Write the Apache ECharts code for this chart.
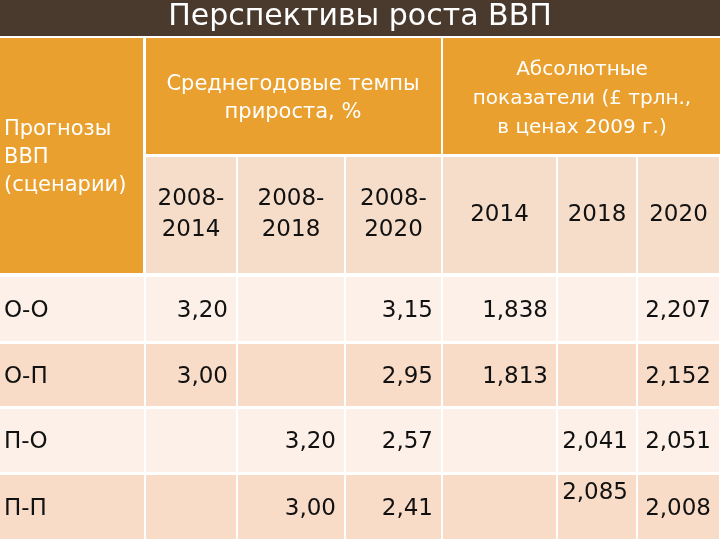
<!DOCTYPE html>
<html><head><meta charset="utf-8">
<script src="https://cdn.jsdelivr.net/npm/echarts@6/dist/echarts.min.js"></script>
<style>html,body{margin:0;padding:0;background:#fff}#c{width:720px;height:540px}</style>
</head><body><div id="c"></div>
<script>
const title = "Перспективы роста ВВП";
const rowHeader = "Прогнозы\nВВП\n(сценарии)";
const groupHeaders = ["Среднегодовые темпы\nприроста, %", "Абсолютные\nпоказатели (£ трлн.,\nв ценах 2009 г.)"];
const periods = ["2008-\n2014", "2008-\n2018", "2008-\n2020", "2014", "2018", "2020"];
const scenarios = ["О-О", "О-П", "П-О", "П-П"];
const rateValues = [["3,20", "", "3,15"], ["3,00", "", "2,95"], ["", "3,20", "2,57"], ["", "3,00", "2,41"]];
const absValues = [["1,838", "", "2,207"], ["1,813", "", "2,152"], ["", "2,041", "2,051"], ["", "2,085", "2,008"]];

const colX = [0, 145, 237, 345, 442, 557, 637, 720];
const rowY = [275, 342, 407, 473, 540];
const fam = "'DejaVu Sans', sans-serif";
const orange = "#E9A02E", light1 = "#FCF0E8", light2 = "#F8DCC8", hdrLight = "#F6DDC9";
function txt(x,y,t,size,fill,align,lh){
  return {type:'text', x:x, y:y, style:{text:t, fill:fill, fontFamily:fam, fontSize:size, align:align, verticalAlign:'middle', lineHeight:lh||size*1.2}};
}
const els = [];
els.push({type:'rect', shape:{x:0,y:0,width:720,height:36}, style:{fill:'#4A3A2E'}});
els.push(txt(360,17,title,30,'#fff','center'));
els.push({type:'rect', shape:{x:0,y:37,width:720,height:503}, style:{fill:'#fff'}});
els.push({type:'rect', shape:{x:0,y:38,width:143,height:235}, style:{fill:orange}});
els.push({type:'rect', shape:{x:146,y:38,width:295,height:116}, style:{fill:orange}});
els.push({type:'rect', shape:{x:443,y:38,width:277,height:116}, style:{fill:orange}});
els.push(txt(4,158,rowHeader,21,'#fff','left',28));
els.push(txt(293,99,groupHeaders[0],21,'#fff','center',28));
els.push(txt(582,99,groupHeaders[1],20,'#fff','center',29));
periods.forEach((p,i)=>{
  const x0 = colX[i+1]+1, x1 = colX[i+2]-1;
  els.push({type:'rect', shape:{x:x0,y:157,width:x1-x0,height:116}, style:{fill:hdrLight}});
  els.push(txt((x0+x1)/2,215,p,23,'#111','center',31));
});
scenarios.forEach((s,r)=>{
  const y0 = rowY[r]+2, y1 = rowY[r+1]-1, fill = r%2===0?light1:light2, yc=(y0+y1)/2+2;
  for (let c=0;c<7;c++){
    const x0 = colX[c]+(c?1:0), x1 = colX[c+1]-1;
    els.push({type:'rect', shape:{x:x0,y:y0,width:x1-x0,height:y1-y0}, style:{fill:fill}});
  }
  els.push(txt(4,yc,s,23,'#111','left'));
  const vals = rateValues[r].concat(absValues[r]);
  vals.forEach((v,c)=>{
    if(!v) return;
    const y = (r===3 && c===4) ? yc-16 : yc;
    els.push(txt(colX[c+2]-9,y,v,23,'#111','right'));
  });
});
const chart = echarts.init(document.getElementById('c'));
chart.setOption({graphic:{elements:els}});
</script></body></html>
